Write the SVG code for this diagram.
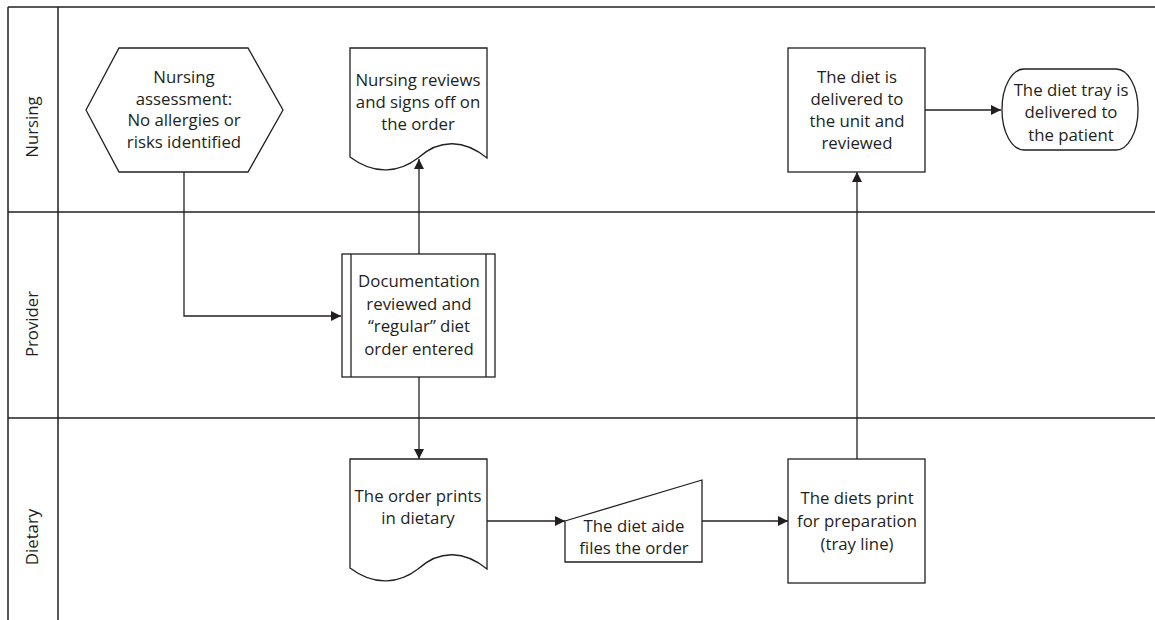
<svg xmlns="http://www.w3.org/2000/svg" width="1155" height="620" viewBox="0 0 1155 620">
  <defs>
    <marker id="arrow" viewBox="0 0 10 10" refX="10" refY="5" markerWidth="10" markerHeight="10" markerUnits="userSpaceOnUse" orient="auto">
      <path d="M0,0 L10,5 L0,10 Z" fill="#231f20"/>
    </marker>
  </defs>
  <style>
    .lane { stroke: #231f20; stroke-width: 1.5; fill: none; }
    .shape { stroke: #231f20; stroke-width: 1.3; fill: #ffffff; }
    .edge { stroke: #231f20; stroke-width: 1.3; fill: none; marker-end: url(#arrow); }
    .line { stroke: #231f20; stroke-width: 1.3; fill: none; }
    text { font-family: "Open Sans", "Liberation Sans", sans-serif; font-size: 16.8px; fill: #231f20; text-anchor: middle; }
  </style>

  <rect width="1155" height="620" fill="#ffffff"/>

  <!-- swimlane frame -->
  <g id="lanes">
    <line class="lane" x1="8" y1="7" x2="1155" y2="7"/>
    <line class="lane" x1="8" y1="212" x2="1155" y2="212"/>
    <line class="lane" x1="8" y1="418" x2="1155" y2="418"/>
    <line class="lane" x1="8" y1="7" x2="8" y2="620"/>
    <line class="lane" x1="58" y1="7" x2="58" y2="620"/>
    <text transform="translate(38,127) rotate(-90)">Nursing</text>
    <text transform="translate(38,324) rotate(-90)">Provider</text>
    <text transform="translate(38,537) rotate(-90)">Dietary</text>
  </g>

  <!-- connectors -->
  <g id="connectors">
    <polyline class="edge" points="184,172 184,316 341,316"/>
    <line class="edge" x1="419" y1="254" x2="419" y2="159"/>
    <line class="edge" x1="419" y1="377" x2="419" y2="459"/>
    <line class="edge" x1="487" y1="521" x2="565" y2="521"/>
    <line class="edge" x1="702" y1="521" x2="788" y2="521"/>
    <line class="edge" x1="857" y1="459" x2="857" y2="172"/>
    <line class="edge" x1="925" y1="110" x2="1001" y2="110"/>
  </g>

  <g id="nursing-assessment">
    <polygon class="shape" points="86,110 119,48 248,48 283,110 248,172 119,172"/>
    <text x="184" y="83">Nursing</text>
    <text x="184" y="105">assessment:</text>
    <text x="184" y="126">No allergies or</text>
    <text x="184" y="148">risks identified</text>
  </g>

  <g id="nursing-reviews">
    <path class="shape" d="M350,48 L487,48 L487,158 C465,140 440,138 418,158 C400,172 375,176 350,157 Z"/>
    <text x="418" y="86">Nursing reviews</text>
    <text x="418" y="108">and signs off on</text>
    <text x="418" y="130">the order</text>
  </g>

  <g id="documentation">
    <rect class="shape" x="342" y="254" width="153" height="123"/>
    <line class="line" x1="351" y1="254" x2="351" y2="377"/>
    <line class="line" x1="486" y1="254" x2="486" y2="377"/>
    <text x="419" y="287">Documentation</text>
    <text x="419" y="310">reviewed and</text>
    <text x="419" y="332">“regular” diet</text>
    <text x="419" y="355">order entered</text>
  </g>

  <g id="order-prints">
    <path class="shape" d="M350,459 L487,459 L487,569 C465,551 440,549 418,569 C400,583 375,587 350,568 Z"/>
    <text x="418" y="502">The order prints</text>
    <text x="418" y="524">in dietary</text>
  </g>

  <g id="diet-aide">
    <polygon class="shape" points="565,521 702,480 702,562 565,562"/>
    <text x="634" y="532">The diet aide</text>
    <text x="634" y="554">files the order</text>
  </g>

  <g id="diets-print">
    <rect class="shape" x="788" y="459" width="137" height="124"/>
    <text x="857" y="504">The diets print</text>
    <text x="857" y="527">for preparation</text>
    <text x="857" y="550">(tray line)</text>
  </g>

  <g id="diet-delivered">
    <rect class="shape" x="788" y="48" width="137" height="124"/>
    <text x="857" y="83">The diet is</text>
    <text x="857" y="105">delivered to</text>
    <text x="857" y="127">the unit and</text>
    <text x="857" y="149">reviewed</text>
  </g>

  <g id="tray-delivered">
    <rect class="shape" x="1002" y="69" width="136" height="81" rx="22" ry="40"/>
    <text x="1071" y="96">The diet tray is</text>
    <text x="1071" y="118">delivered to</text>
    <text x="1071" y="141">the patient</text>
  </g>
</svg>
